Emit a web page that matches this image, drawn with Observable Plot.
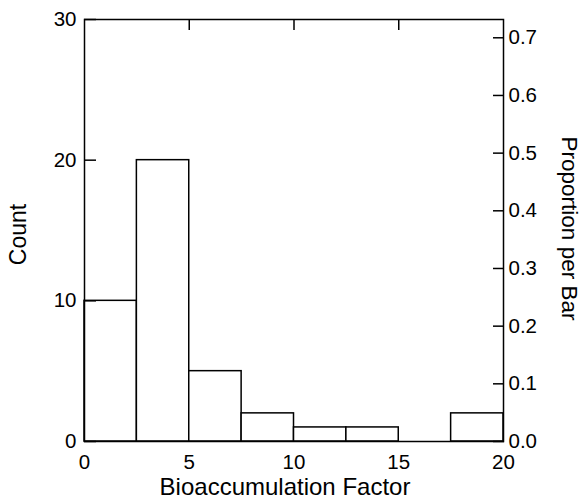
<!DOCTYPE html>
<html><head><meta charset="utf-8">
<script src="https://cdn.jsdelivr.net/npm/d3@7"></script>
<script src="https://cdn.jsdelivr.net/npm/@observablehq/plot@0.6"></script>
<style>body{margin:0;background:#fff} svg{display:block}</style>
</head><body><div id="chart"></div>
<script>
const binStarts = [0, 2.5, 5, 7.5, 10, 12.5, 15, 17.5];
const binEnds = [2.5, 5, 7.5, 10, 12.5, 15, 17.5, 20];
const counts = [10, 20, 5, 2, 1, 1, 0, 2];
const xTicks = [0, 5, 10, 15, 20];
const topTicks = [5, 10, 15];
const countTicks = [0, 10, 20, 30];
const propTicks = [0, 0.1, 0.2, 0.3, 0.4, 0.5, 0.6, 0.7];
const xLabel = "Bioaccumulation Factor";
const yLabel = "Count";
const y2Label = "Proportion per Bar";

const total = d3.sum(counts);
const bins = binStarts.map((x1, i) => ({x1, x2: binEnds[i], count: counts[i]}));
const font = "'Liberation Sans', Arial, sans-serif";

const chart = Plot.plot({
  width: 582, height: 503,
  marginLeft: 84, marginRight: 79, marginTop: 19, marginBottom: 62,
  style: {fontFamily: font, fontSize: "20px", color: "black", background: "white"},
  x: {domain: [0, 20]},
  y: {domain: [0, 30]},
  marks: [
    Plot.rectY(bins.filter(d => d.count > 0), {x1: "x1", x2: "x2", y: "count", fill: "white", stroke: "black", strokeWidth: 1.5}),
    Plot.frame({stroke: "black", strokeWidth: 1.5}),
    Plot.axisX(xTicks, {anchor: "bottom", tickSize: 0, tickPadding: 13, label: null, fontSize: 20.5}),
    Plot.axisX(topTicks, {anchor: "top", tickSize: -10, strokeWidth: 1.5, tickFormat: () => "", label: null}),
    Plot.axisY(countTicks, {anchor: "left", tickSize: -12, tickPadding: 20, strokeWidth: 1.5, label: null, fontSize: 20.5}),
    Plot.axisY(propTicks.map(p => p * total), {anchor: "right", tickSize: -11, tickPadding: 16, strokeWidth: 1.5, tickFormat: d => (d / total).toFixed(1), label: null, fontSize: 20.5}),
    Plot.text([xLabel], {text: d => d, frameAnchor: "bottom", textAnchor: "middle", lineAnchor: "bottom", dx: -9, dy: 53, fontSize: 24}),
    Plot.text([yLabel], {text: d => d, frameAnchor: "left", textAnchor: "middle", lineAnchor: "middle", dx: -66, dy: 4, rotate: -90, fontSize: 23}),
    Plot.text([y2Label], {text: d => d, frameAnchor: "right", textAnchor: "middle", lineAnchor: "middle", dx: 66, dy: -2, rotate: 90, fontSize: 22.5})
  ]
});
document.getElementById("chart").appendChild(chart);
</script>
</body></html>
